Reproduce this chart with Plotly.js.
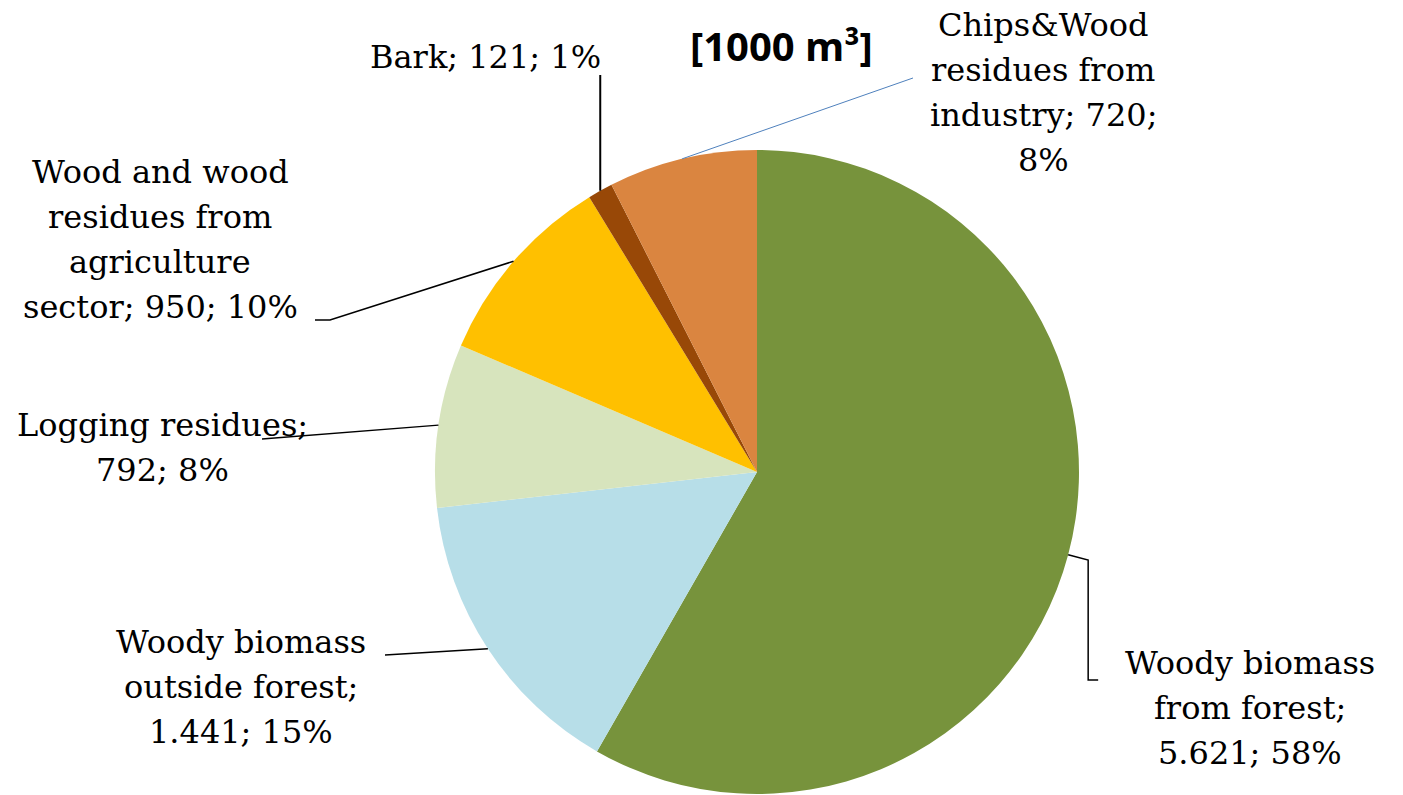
<!DOCTYPE html>
<html>
<head>
<meta charset="utf-8">
<script src="https://cdn.plot.ly/plotly-3.0.1.min.js"></script>
<style>html,body{margin:0;padding:0;background:#fff;}#chart{width:1403px;height:795px;}</style>
</head>
<body>
<div id="chart"></div>
<script>
// ---- data ----
const categories = [
  "Woody biomass from forest",
  "Woody biomass outside forest",
  "Logging residues",
  "Wood and wood residues from agriculture sector",
  "Bark",
  "Chips&Wood residues from industry"
];
const values = [5621, 1441, 792, 950, 121, 720];
const valueLabels = ["5.621", "1.441", "792", "950", "121", "720"];
const percentLabels = ["58%", "15%", "8%", "10%", "1%", "8%"];
const labelLines = [
  ["Woody biomass", "from forest;", "5.621; 58%"],
  ["Woody biomass", "outside forest;", "1.441; 15%"],
  ["Logging residues;", "792; 8%"],
  ["Wood and wood", "residues from", "agriculture", "sector; 950; 10%"],
  ["Bark; 121; 1%"],
  ["Chips&Wood", "residues from", "industry; 720;", "8%"]
];
const unitTitle = "[1000 m³]";

// ---- styles / layout ----
const colors = ["#77933C", "#B7DEE8", "#D7E4BD", "#FFC000", "#984807", "#DA8540"];
const W = 1403, H = 795;
const cx = 757, cy = 472, R = 322;
// label block anchor (center x, first line center y) in pixels
const labelPos = [[1250, 663], [241, 642], [162, 425], [160, 172], [485, 57], [1043, 25]];
const lineStep = 45;

function px2paper(x, y) { return [x / W, 1 - y / H]; }

const total = values.reduce((a, b) => a + b, 0);
let cum = 0;
const edgePts = values.map(v => {
  const th = (cum + v / 2) / total * 2 * Math.PI;
  cum += v;
  return [cx + R * Math.sin(th), cy - R * Math.cos(th)];
});

// leader paths (pixel points after the slice edge point)
const leaders = [
  e => [e, [e[0] + 20, 560], [e[0] + 20, 680], [e[0] + 30, 680]],
  e => [e, [385, 655]],
  e => [e, [262, 439]],
  e => [e, [330, 320], [315, 320]],
  e => [e, [e[0], 75]],
  e => [e, [913, 78]]
];
const leaderColors = ["#000", "#000", "#000", "#000", "#000", "#4F81BD"];
const leaderWidths = [1.5, 1.5, 1.5, 1.5, 2, 1];

const shapes = leaders.map((f, i) => {
  const pts = f(edgePts[i]).map(p => px2paper(p[0], p[1]));
  return {
    type: "path", xref: "paper", yref: "paper",
    path: pts.map((p, k) => (k ? "L" : "M") + p[0].toFixed(5) + "," + p[1].toFixed(5)).join(" "),
    line: { color: leaderColors[i], width: leaderWidths[i] }
  };
});

const annotations = [];
labelLines.forEach((lines, i) => {
  lines.forEach((t, k) => {
    const p = px2paper(labelPos[i][0], labelPos[i][1] + k * lineStep);
    annotations.push({
      text: t, x: p[0], y: p[1], xref: "paper", yref: "paper",
      xanchor: "center", yanchor: "middle", showarrow: false,
      font: { family: "DejaVu Serif, serif", size: 32, color: "#000" }
    });
  });
});
const tp = px2paper(781, 46);
annotations.push({
  text: "<b>" + unitTitle + "</b>", x: tp[0], y: tp[1], xref: "paper", yref: "paper",
  xanchor: "center", yanchor: "middle", showarrow: false,
  font: { family: "Open Sans, sans-serif", size: 40, color: "#000" }
});

const trace = {
  type: "pie",
  labels: categories,
  values: values,
  customdata: valueLabels.map((v, i) => v + "; " + percentLabels[i]),
  sort: false,
  direction: "clockwise",
  rotation: 0,
  textinfo: "none",
  hoverinfo: "label+text",
  marker: { colors: colors, line: { width: 0 } },
  showlegend: false,
  domain: {
    x: [(cx - R) / W, (cx + R) / W],
    y: [1 - (cy + R) / H, 1 - (cy - R) / H]
  }
};

const layout = {
  width: W, height: H,
  margin: { l: 0, r: 0, t: 0, b: 0 },
  paper_bgcolor: "#fff",
  showlegend: false,
  shapes: shapes,
  annotations: annotations
};

Plotly.newPlot("chart", [trace], layout, { displayModeBar: false, staticPlot: true });
</script>
</body>
</html>
